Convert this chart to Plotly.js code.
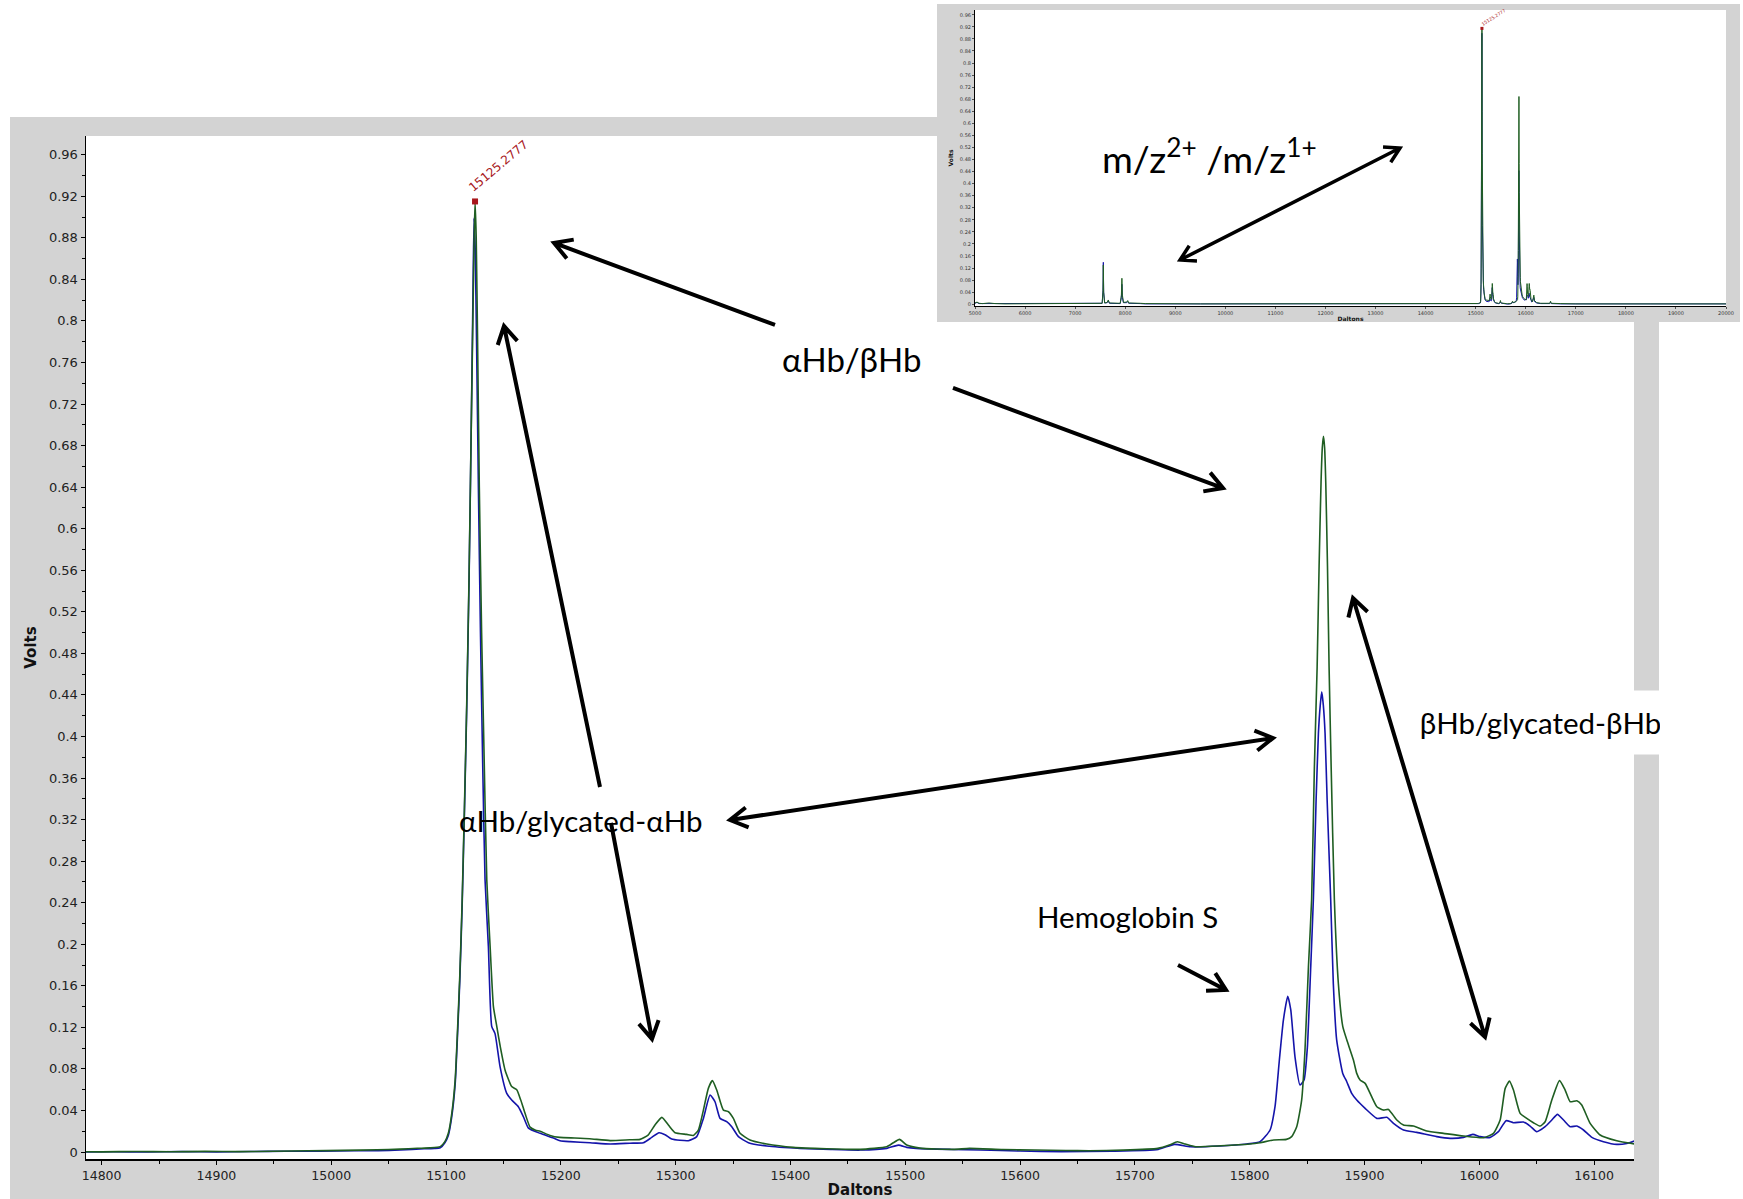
<!DOCTYPE html>
<html>
<head>
<meta charset="utf-8">
<script src="https://cdn.plot.ly/plotly-3.0.1.min.js"></script>
<style>
  html, body { margin: 0; padding: 0; background: #ffffff; }
  #main { position: absolute; left: 0; top: 0; width: 1743px; height: 1199px; z-index: 1; }
  #overview { position: absolute; left: 937px; top: 4px; width: 803px; height: 318px; z-index: 2; }
</style>
</head>
<body>
<div id="main"></div>
<div id="overview"></div>
<script>
// ---- Spectrum data (Daltons vs Volts) ----
// Green spectrum, 14786-16136 Da
const greenMass = [14786, 14800, 14830, 14860, 14890, 14920, 14950, 14980, 15010, 15040, 15060, 15075, 15086, 15095, 15099, 15102, 15105, 15108, 15110, 15112, 15114, 15116, 15118, 15120, 15122, 15123.5, 15124.5, 15125.2777, 15126.3, 15127.5, 15129, 15131, 15133, 15135.5, 15138.4, 15141.3, 15144.2, 15147.5, 15151.4, 15157.2, 15161.6, 15165.1, 15168.9, 15173.2, 15178, 15182, 15190.6, 15199, 15212, 15225, 15243, 15260, 15269, 15276, 15282, 15288, 15293.7, 15299.5, 15309.6, 15315.5, 15319.8, 15324.2, 15328.5, 15332, 15335.8, 15341.6, 15346, 15350.3, 15356.1, 15364.8, 15379.4, 15402.6, 15431.6, 15460.7, 15483.9, 15489.7, 15495, 15501.3, 15512.9, 15542, 15556, 15585, 15613, 15640, 15660, 15690, 15720, 15730, 15737, 15744, 15753, 15775, 15800, 15809, 15821, 15832, 15836.6, 15841, 15845.3, 15848.2, 15851.2, 15854, 15856.4, 15858.8, 15860.5, 15862.2, 15863.3, 15864.3, 15865.3, 15866.3, 15867.8, 15869.2, 15871, 15873.8, 15877.3, 15881.1, 15884.6, 15890.4, 15893.3, 15896.2, 15900.6, 15910.8, 15916.6, 15920.9, 15928.2, 15934, 15942.7, 15954.3, 15968.8, 15986.3, 16003.7, 16012.4, 16018.2, 16022.6, 16026.3, 16029.8, 16035.6, 16041.4, 16047.2, 16053.1, 16057.4, 16063.2, 16069.9, 16074.8, 16079.2, 16085, 16089.3, 16096.6, 16105.3, 16119.8, 16135.8];
const greenVolts = [0.0003, 0.0002, 0.0005, 0.0003, 0.0006, 0.0004, 0.0008, 0.0012, 0.0016, 0.0022, 0.0028, 0.0036, 0.0040, 0.0052, 0.0100, 0.0180, 0.0370, 0.0700, 0.117, 0.170, 0.240, 0.330, 0.430, 0.550, 0.700, 0.810, 0.880, 0.915, 0.880, 0.780, 0.640, 0.500, 0.390, 0.262, 0.198, 0.140, 0.121, 0.100, 0.079, 0.063, 0.060, 0.050, 0.037, 0.024, 0.021, 0.020, 0.016, 0.0141, 0.0135, 0.0128, 0.0110, 0.0118, 0.0122, 0.0163, 0.0260, 0.0334, 0.0260, 0.0186, 0.0170, 0.0160, 0.0212, 0.0404, 0.0613, 0.0687, 0.0597, 0.0404, 0.0388, 0.0324, 0.0180, 0.0116, 0.0077, 0.0045, 0.0032, 0.0026, 0.0051, 0.0090, 0.0122, 0.0067, 0.0038, 0.0026, 0.0035, 0.0024, 0.0019, 0.0015, 0.0013, 0.0018, 0.0035, 0.0067, 0.0099, 0.0077, 0.0051, 0.0060, 0.0077, 0.0090, 0.0116, 0.0122, 0.0148, 0.0244, 0.0500, 0.0980, 0.178, 0.243, 0.371, 0.467, 0.564, 0.645, 0.678, 0.689, 0.678, 0.645, 0.564, 0.467, 0.371, 0.243, 0.162, 0.121, 0.108, 0.0886, 0.0757, 0.0693, 0.0661, 0.0436, 0.0404, 0.0410, 0.0308, 0.0260, 0.0250, 0.0202, 0.0180, 0.0154, 0.0138, 0.0180, 0.0308, 0.0613, 0.0683, 0.0597, 0.0372, 0.0324, 0.0282, 0.0250, 0.0292, 0.0500, 0.0687, 0.0597, 0.0484, 0.0494, 0.0453, 0.0276, 0.0164, 0.0109, 0.0077];

// Blue spectrum, 14786-16136 Da
const blueMass = [14786, 14810, 14840, 14870, 14900, 14930, 14960, 14990, 15020, 15041, 15060, 15081, 15090, 15095, 15099, 15102, 15105, 15108, 15110, 15112, 15114, 15116, 15118, 15120, 15122, 15123.4, 15124.4, 15125.4, 15126.6, 15128.2, 15130, 15132, 15134, 15136.9, 15139.8, 15142.7, 15147.1, 15152.9, 15157.2, 15163, 15167.4, 15171.8, 15181.9, 15193.5, 15199.3, 15208, 15225.5, 15242.9, 15260, 15271.9, 15279.2, 15285.5, 15290.8, 15296.6, 15311.1, 15318.4, 15324.2, 15330, 15334.3, 15338.7, 15344.5, 15348.9, 15354.7, 15363.4, 15379.4, 15408.4, 15435, 15460.7, 15483.9, 15494.1, 15501.3, 15509.6, 15540, 15565.8, 15600, 15636, 15680, 15720.4, 15734.5, 15748.5, 15774.2, 15797.4, 15809.1, 15817.8, 15822.1, 15825.9, 15829.4, 15833.2, 15835.8, 15839.5, 15843.9, 15847.4, 15850.3, 15853.2, 15855.5, 15857.9, 15859.9, 15861.5, 15862.8, 15864.2, 15865.7, 15867.5, 15870.6, 15872.9, 15875.8, 15881.1, 15884.6, 15888.9, 15893.3, 15900.6, 15910.8, 15919.5, 15925.3, 15934, 15945.6, 15963, 15974.6, 15986.3, 15994.4, 16000.8, 16009.5, 16016.7, 16023.4, 16029.8, 16038.5, 16044.3, 16050.1, 16057.4, 16063.2, 16068.1, 16073.4, 16079.2, 16085, 16090.8, 16098.1, 16108.2, 16119.8, 16128.5, 16135.8];
const blueVolts = [0.0000, 0.0003, 0.0001, 0.0004, 0.0002, 0.0005, 0.0007, 0.0009, 0.0012, 0.0013, 0.0020, 0.0032, 0.0035, 0.0042, 0.0090, 0.0160, 0.0340, 0.0660, 0.112, 0.165, 0.235, 0.325, 0.425, 0.545, 0.700, 0.820, 0.899, 0.870, 0.780, 0.640, 0.500, 0.370, 0.262, 0.198, 0.121, 0.114, 0.082, 0.0565, 0.050, 0.0436, 0.034, 0.023, 0.018, 0.0135, 0.0109, 0.0100, 0.0090, 0.0077, 0.0085, 0.0090, 0.0141, 0.0186, 0.0167, 0.0125, 0.0109, 0.0148, 0.0324, 0.0549, 0.0484, 0.0324, 0.0292, 0.0244, 0.0148, 0.0090, 0.0058, 0.0035, 0.0025, 0.0019, 0.0035, 0.0067, 0.0045, 0.0035, 0.0025, 0.0019, 0.0010, 0.0003, 0.0008, 0.0026, 0.0074, 0.0051, 0.0058, 0.0077, 0.0100, 0.0212, 0.0436, 0.0886, 0.127, 0.150, 0.137, 0.0917, 0.0645, 0.0693, 0.101, 0.178, 0.243, 0.339, 0.403, 0.430, 0.443, 0.430, 0.403, 0.339, 0.243, 0.162, 0.108, 0.0757, 0.0677, 0.0565, 0.0500, 0.0420, 0.0324, 0.0334, 0.0276, 0.0212, 0.0189, 0.0148, 0.0132, 0.0141, 0.0170, 0.0148, 0.0141, 0.0196, 0.0302, 0.0282, 0.0289, 0.0250, 0.0196, 0.0244, 0.0308, 0.0363, 0.0308, 0.0244, 0.0250, 0.0212, 0.0141, 0.0100, 0.0074, 0.0083, 0.0109];

// Wide-range overview: the parts outside 14786-16136 Da
const lowMass = [5000, 5040, 5080, 5150, 5280, 5320, 5400, 5600, 6500, 7400, 7540, 7556, 7563, 7570, 7590, 7640, 7662, 7685, 7900, 7924, 7934, 7944, 7965, 8030, 8050, 8070, 8300, 8400, 9500, 11000, 13000, 14500, 14700];
const lowGreen = [0.004, 0.007, 0.003, 0.002, 0.004, 0.003, 0.002, 0.001, 0.001, 0.001, 0.003, 0.040, 0.130, 0.040, 0.004, 0.006, 0.014, 0.004, 0.003, 0.030, 0.086, 0.030, 0.006, 0.007, 0.012, 0.004, 0.003, 0.002, 0.001, 0.001, 0.001, 0.001, 0.001];
const lowBlue = [0.003, 0.006, 0.002, 0.002, 0.003, 0.003, 0.001, 0.001, 0.001, 0.001, 0.003, 0.045, 0.139, 0.040, 0.004, 0.005, 0.011, 0.003, 0.002, 0.022, 0.066, 0.022, 0.005, 0.005, 0.009, 0.003, 0.002, 0.001, 0.001, 0.001, 0.001, 0.001, 0.001];
const highMass = [16150, 16162, 16175, 16220, 16300, 16480, 16495, 16510, 16700, 17000, 18500, 20000];
const highGreen = [0.020, 0.030, 0.012, 0.005, 0.003, 0.003, 0.010, 0.003, 0.002, 0.001, 0.001, 0.001];
const highBlue = [0.016, 0.022, 0.009, 0.004, 0.002, 0.002, 0.006, 0.002, 0.001, 0.001, 0.001, 0.001];

// Labelled apex of the alpha-chain peak
const peakMass = 15125.2777;
const peakVolts = 0.915;

// Axis ticks
const yTickStep = 0.04;
const xTickStep = 100;
const xTickStepOverview = 1000;

// ---- Styling ----
const GREEN = '#1f5e22';
const BLUE = '#1414aa';
const PANEL = '#d3d3d3';
const PEAK_RED = '#a8171b';
const TICK_FONT = { family: 'DejaVu Sans, Verdana, sans-serif', size: 13, color: '#222' };
const NOTE_FAMILY = 'Lato, "Open Sans", sans-serif';
const NOTE_FONT = { family: NOTE_FAMILY, size: 29.5, color: '#000' };

// Plot-area pixel box of the main chart inside its 1743x1199 page
const PA = { left: 86, right: 1634, top: 136, bottom: 1159 };
const W = 1743, H = 1199;

function mainPaper(px, py) {
  return [(px - PA.left) / (PA.right - PA.left), (PA.bottom - py) / (PA.bottom - PA.top)];
}

// Arrow as an SVG path (shaft + open V heads) in paper units
function arrowPath(p1, p2, headStart, headEnd, len, conv) {
  const fmt = p => { const q = conv(p[0], p[1]); return q[0].toFixed(5) + ',' + q[1].toFixed(5); };
  let d = 'M' + fmt(p1) + ' L' + fmt(p2);
  const head = (tip, from) => {
    const dx = tip[0] - from[0], dy = tip[1] - from[1];
    const n = Math.hypot(dx, dy), ux = dx / n, uy = dy / n;
    const a = 30 * Math.PI / 180, c = Math.cos(a), s = Math.sin(a);
    const w1 = [tip[0] - len * (ux * c - uy * s), tip[1] - len * (uy * c + ux * s)];
    const w2 = [tip[0] - len * (ux * c + uy * s), tip[1] - len * (uy * c - ux * s)];
    d += ' M' + fmt(w1) + ' L' + fmt(tip) + ' L' + fmt(w2);
  };
  if (headEnd) head(p2, p1);
  if (headStart) head(p1, p2);
  return d;
}

function arrowShape(p1, p2, headStart, headEnd, len, width, conv) {
  return {
    type: 'path', xref: 'paper', yref: 'paper', layer: 'above',
    path: arrowPath(p1, p2, headStart, headEnd, len, conv),
    line: { color: '#000', width: width }
  };
}

function note(text, px, py, extra) {
  const p = mainPaper(px, py);
  return Object.assign({
    xref: 'paper', yref: 'paper', x: p[0], y: p[1], text: text,
    showarrow: false, xanchor: 'center', yanchor: 'middle', font: NOTE_FONT
  }, extra || {});
}

// ---- Main chart ----
const curve = { shape: 'spline', smoothing: 0.5, width: 1.6 };
const mainTraces = [
  { type: 'scatter', mode: 'lines', x: blueMass, y: blueVolts, line: Object.assign({ color: BLUE }, curve), hoverinfo: 'skip' },
  { type: 'scatter', mode: 'lines', x: greenMass, y: greenVolts, line: Object.assign({ color: GREEN }, curve), hoverinfo: 'skip' },
  { type: 'scatter', mode: 'markers', x: [peakMass], y: [peakVolts], marker: { symbol: 'square', size: 6, color: PEAK_RED }, hoverinfo: 'skip' }
];

const pLo = mainPaper(10, H), pHi = mainPaper(1659, 117);

const mainLayout = {
  width: W, height: H,
  margin: { l: PA.left, r: W - PA.right, t: PA.top, b: H - PA.bottom, pad: 0 },
  paper_bgcolor: '#ffffff', plot_bgcolor: '#ffffff',
  showlegend: false,
  xaxis: {
    range: [14786.4, 16134.8], tick0: 14800, dtick: xTickStep, tickformat: 'd',
    ticks: 'outside', ticklen: 4, tickwidth: 1, tickcolor: '#000',
    showline: true, linecolor: '#000', linewidth: 2, showgrid: false, zeroline: false,
    tickfont: Object.assign({}, TICK_FONT, { size: 12.5 }),
    minor: { tick0: 14800, dtick: 50, ticks: 'outside', ticklen: 3, tickwidth: 1, tickcolor: '#000', showgrid: false },
    title: { text: '<b>Daltons</b>', font: { family: 'DejaVu Sans, Verdana, sans-serif', size: 15, color: '#111' }, standoff: 6 }
  },
  yaxis: {
    range: [-0.0067, 0.978], tick0: 0, dtick: yTickStep,
    ticks: 'outside', ticklen: 4, tickwidth: 1, tickcolor: '#000',
    showline: true, linecolor: '#000', linewidth: 1.5, showgrid: false, zeroline: false,
    tickfont: TICK_FONT,
    minor: { tick0: 0, dtick: 0.02, ticks: 'outside', ticklen: 3, tickwidth: 1, tickcolor: '#000', showgrid: false },
    title: { text: '<b>Volts</b>', font: { family: 'DejaVu Sans, Verdana, sans-serif', size: 15, color: '#111' }, standoff: 8 }
  },
  shapes: [
    { type: 'rect', xref: 'paper', yref: 'paper', layer: 'below', x0: pLo[0], y0: pLo[1], x1: pHi[0], y1: pHi[1], line: { width: 0 }, fillcolor: PANEL },
    { type: 'rect', xref: 'paper', yref: 'paper', layer: 'below', x0: 0, y0: 0, x1: 1, y1: 1, line: { width: 0 }, fillcolor: '#ffffff' },
    arrowShape([775, 325], [554, 243], false, true, 20, 4, mainPaper),
    arrowShape([953, 388], [1223, 488], false, true, 20, 4, mainPaper),
    arrowShape([600, 787], [504, 326], false, true, 20, 4, mainPaper),
    arrowShape([611, 823], [652, 1039], false, true, 20, 4, mainPaper),
    arrowShape([730, 820], [1273, 738], true, true, 20, 4, mainPaper),
    arrowShape([1353, 598], [1485, 1037], true, true, 20, 4, mainPaper),
    arrowShape([1178, 965], [1226, 990], false, true, 20, 4, mainPaper)
  ],
  annotations: [
    note('αHb/βHb', 851, 359, { font: { family: NOTE_FAMILY, size: 33, color: '#000' } }),
    note('αHb/glycated-αHb', 581, 820),
    note('βHb/glycated-βHb', 1540, 723, { bgcolor: '#ffffff', width: 239, height: 63, borderpad: 0 }),
    note('Hemoglobin S', 1127, 916),
    {
      xref: 'x', yref: 'y', x: peakMass, y: peakVolts, text: String(peakMass),
      showarrow: false, textangle: -40, xanchor: 'left', yanchor: 'bottom', xshift: -12, yshift: 4,
      font: { family: 'DejaVu Sans, Verdana, sans-serif', size: 12, color: PEAK_RED }
    }
  ]
};

Plotly.newPlot('main', mainTraces, mainLayout, { displayModeBar: false, staticPlot: true });

// ---- Overview (full mass range) ----
const OV = { x0: 937, y0: 4, w: 803, h: 318, left: 975, right: 1726, top: 10, bottom: 306 };
function ovPaper(px, py) {
  return [(px - OV.left) / (OV.right - OV.left), (OV.bottom - py) / (OV.bottom - OV.top)];
}

const ovTraces = [
  { type: 'scatter', mode: 'lines', x: lowMass.concat(blueMass, highMass), y: lowBlue.concat(blueVolts, highBlue), line: { color: BLUE, width: 1 }, hoverinfo: 'skip' },
  { type: 'scatter', mode: 'lines', x: lowMass.concat(greenMass, highMass), y: lowGreen.concat(greenVolts, highGreen), line: { color: GREEN, width: 1 }, hoverinfo: 'skip' },
  { type: 'scatter', mode: 'markers', x: [peakMass], y: [peakVolts], marker: { symbol: 'square', size: 3, color: PEAK_RED }, hoverinfo: 'skip' }
];

const smallFont = { family: 'DejaVu Sans, Verdana, sans-serif', size: 5, color: '#333' };
const ovLabel = ovPaper(1209, 156);

const ovLayout = {
  width: OV.w, height: OV.h,
  margin: { l: OV.left - OV.x0, r: OV.x0 + OV.w - OV.right, t: OV.top - OV.y0, b: OV.y0 + OV.h - OV.bottom, pad: 0 },
  paper_bgcolor: PANEL, plot_bgcolor: '#ffffff',
  showlegend: false,
  xaxis: {
    range: [5000, 20000], tick0: 5000, dtick: xTickStepOverview, tickformat: 'd',
    ticks: 'outside', ticklen: 2, tickwidth: 0.6, tickcolor: '#000',
    showline: true, linecolor: '#000', linewidth: 1, showgrid: false, zeroline: false,
    tickfont: smallFont,
    title: { text: '<b>Daltons</b>', font: { family: 'DejaVu Sans, Verdana, sans-serif', size: 6, color: '#111' }, standoff: 1 }
  },
  yaxis: {
    range: [-0.006, 0.976], tick0: 0, dtick: yTickStep,
    ticks: 'outside', ticklen: 2, tickwidth: 0.6, tickcolor: '#000',
    showline: true, linecolor: '#000', linewidth: 1, showgrid: false, zeroline: false,
    tickfont: smallFont,
    title: { text: '<b>Volts</b>', font: { family: 'DejaVu Sans, Verdana, sans-serif', size: 6, color: '#111' }, standoff: 5 }
  },
  shapes: [
    arrowShape([1180, 260], [1400, 148], true, true, 17, 3.5, ovPaper)
  ],
  annotations: [
    {
      xref: 'paper', yref: 'paper', x: ovLabel[0], y: ovLabel[1],
      text: 'm/z<sup>2+</sup> /m/z<sup>1+</sup>', showarrow: false,
      xanchor: 'center', yanchor: 'middle',
      font: { family: NOTE_FAMILY, size: 37.5, color: '#000' }
    },
    {
      xref: 'x', yref: 'y', x: peakMass, y: peakVolts, text: String(peakMass),
      showarrow: false, textangle: -32, xanchor: 'left', yanchor: 'bottom', xshift: -4, yshift: -1,
      font: { family: 'DejaVu Sans, Verdana, sans-serif', size: 4.5, color: PEAK_RED }
    }
  ]
};

Plotly.newPlot('overview', ovTraces, ovLayout, { displayModeBar: false, staticPlot: true });
</script>
</body>
</html>
